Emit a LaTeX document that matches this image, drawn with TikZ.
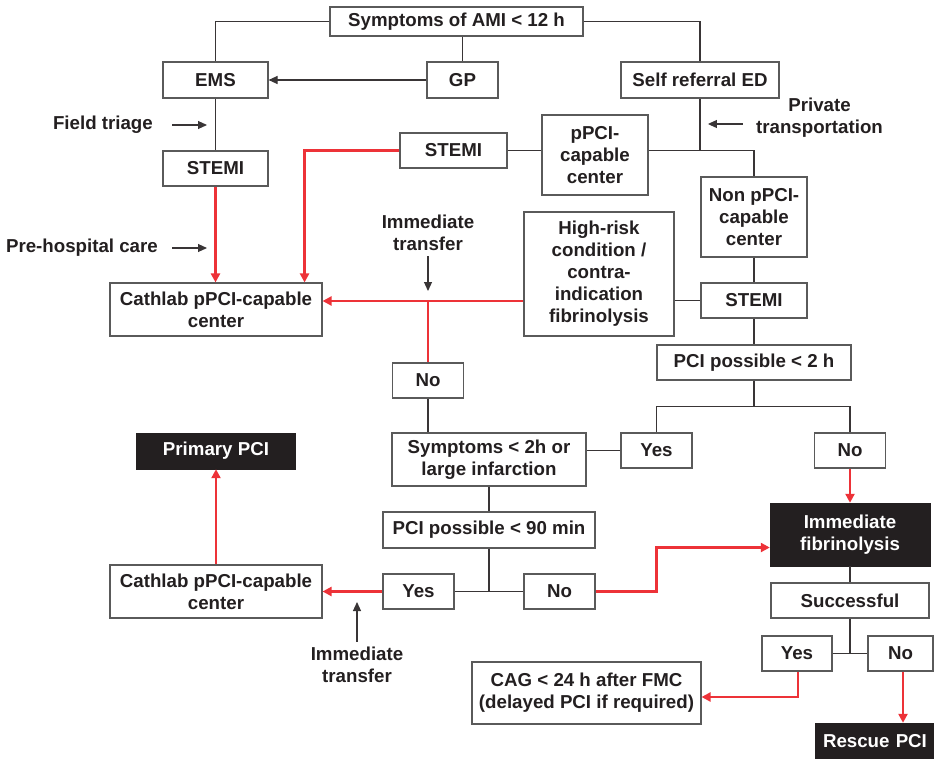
\documentclass[tikz,border=0pt]{standalone}
\usepackage{fontspec}
\setmainfont{Liberation Sans}
\usepackage{tikz}
\usetikzlibrary{arrows.meta, positioning, calc}
\tikzset{every node/.append style={align=center}}
\usepackage{xcolor}
\definecolor{amired}{RGB}{237,50,56}
\definecolor{boxgray}{RGB}{90,90,90}
\definecolor{inkblack}{RGB}{35,31,32}
\newcommand{\flowfont}{\fontsize{18.7}{22}\selectfont\bfseries}

\tikzset{
  flowbox/.style={draw=boxgray, line width=1.1pt, fill=white, inner sep=0pt,
                  text=inkblack, font=\flowfont},
  darkbox/.style={draw=inkblack, fill=inkblack, inner sep=0pt,
                  text=white, font=\flowfont},
  sidetext/.style={inner sep=1pt, text=inkblack, font=\flowfont},
  link/.style={draw=inkblack!90, line width=1.1pt},
  redlink/.style={draw=amired, line width=2.4pt},
  redarrow/.style={redlink, -{Triangle[length=9pt,width=9pt]}},
  blackarrow/.style={link, -{Triangle[length=9pt,width=8pt]}},
}

\begin{document}
\begin{tikzpicture}[x=1pt,y=-1pt]
\useasboundingbox (0,0) rectangle (934,758);
\clip (0,0) rectangle (934,758);

% ── First contact ─────────────────────────────────────────────────────────────
\node[flowbox, minimum width=253, minimum height=29] (symp) at (456.5,21.5)
      {Symptoms of AMI < 12 h};
\node[flowbox, minimum width=105, minimum height=36] (ems) at (215.5,80) {EMS};
\node[flowbox, minimum width=71, minimum height=36] (gp) at (462.5,80) {GP};
\node[flowbox, minimum width=158, minimum height=36] (self) at (700,80)
      {Self referral ED};

\node[sidetext, anchor=east] (field) at (154,125) {Field triage};
\node[sidetext, anchor=east] (prehosp) at (159,248) {Pre-hospital care};
\node[sidetext] (private) at (819.5,118) {Private\\transportation};

% ── STEMI diagnosis ───────────────────────────────────────────────────────────
\node[flowbox, minimum width=105, minimum height=35] (stemiA) at (215.5,168.5) {STEMI};
\node[flowbox, minimum width=107, minimum height=35] (stemiB) at (453.5,150.5) {STEMI};
\node[flowbox, minimum width=106, minimum height=80] (ppci) at (595,155)
      {pPCI-\\capable\\center};
\node[flowbox, minimum width=106, minimum height=80] (nonppci) at (754,217)
      {Non pPCI-\\capable\\center};
\node[flowbox, minimum width=150, minimum height=124] (highrisk) at (599,274)
      {High-risk\\condition /\\contra-\\indication\\fibrinolysis};
\node[flowbox, minimum width=106, minimum height=35] (stemiC) at (754,300.5) {STEMI};
\node[sidetext] (imtrA) at (428,233) {Immediate\\transfer};

% ── Reperfusion choice ────────────────────────────────────────────────────────
\node[flowbox, minimum width=212, minimum height=53] (cathA) at (216,309.5)
      {Cathlab pPCI-capable\\center};
\node[flowbox, minimum width=71, minimum height=35] (noA) at (428,380.5) {No};
\node[flowbox, minimum width=194, minimum height=35] (pcip2) at (754,362.5)
      {PCI possible < 2 h};
\node[darkbox, minimum width=159, minimum height=36] (primary) at (216,451)
      {Primary PCI};
\node[flowbox, minimum width=194, minimum height=53] (sympt2) at (489,459.5)
      {Symptoms < 2h or\\large infarction};
\node[flowbox, minimum width=71, minimum height=35] (yesA) at (656.5,450.5) {Yes};
\node[flowbox, minimum width=71, minimum height=35] (noB) at (850,450.5) {No};
\node[flowbox, minimum width=212, minimum height=36] (pcip90) at (489,530)
      {PCI possible < 90 min};
\node[darkbox, minimum width=160, minimum height=63] (fibr) at (850,534.5)
      {Immediate\\fibrinolysis};
\node[flowbox, minimum width=212, minimum height=53] (cathB) at (216,591.5)
      {Cathlab pPCI-capable\\center};
\node[flowbox, minimum width=71, minimum height=35] (yesB) at (418.5,591.5) {Yes};
\node[flowbox, minimum width=71, minimum height=35] (noC) at (559.5,591.5) {No};
\node[sidetext] (imtrB) at (357,665) {Immediate\\transfer};

% ── After fibrinolysis ────────────────────────────────────────────────────────
\node[flowbox, minimum width=158, minimum height=35] (succ) at (850,600.5) {Successful};
\node[flowbox, minimum width=70, minimum height=35] (yesC) at (797,653.5) {Yes};
\node[flowbox, minimum width=65, minimum height=35] (noD) at (900.5,653.5) {No};
\node[flowbox, minimum width=229, minimum height=62] (cag) at (586.5,693)
      {CAG < 24 h after FMC\\(delayed PCI if required)};
\node[darkbox, minimum width=118, minimum height=36, text width=118,
      align=left, inner xsep=8pt] (rescue) at (882,741) {Rescue PCI};

% ── Connectors ────────────────────────────────────────────────────────────────
\draw[link] (symp.west) -| (ems.north);
\draw[link] (symp.east) -| (self.north);
\draw[link] (gp.north |- symp.south) -- (gp.north);
\draw[blackarrow] (gp.west) -- (ems.east);
\draw[link] (ems.south) -- (stemiA.north);
\draw[blackarrow] ([xshift=18pt]field.east) -- ++(35,0);
\draw[blackarrow] ([xshift=13pt]prehosp.east) -- ++(35,0);
\draw[blackarrow] ([xshift=-12pt,yshift=-6pt]private.west) -- ++(-35,0);

\draw[redarrow] (stemiA.south) -- (stemiA.south |- cathA.north);
\draw[redarrow] (stemiB.west) -| ([xshift=-18pt]cathA.north east);
\draw[link] (stemiB.east) -- (stemiB.east -| ppci.west);
\draw[link] (self.south) -- (self.south |- stemiB.east);
\draw[link] (ppci.east |- stemiB.east) -| (nonppci.north);
\draw[link] (nonppci.south) -- (stemiC.north);
\draw[link] (stemiC.west -| highrisk.east) -- (stemiC.west);

\coordinate (split) at (428,301);
\draw[redarrow] (split -| highrisk.west) -- (split -| cathA.east);
\draw[redlink] (split) -- (noA.north);
\draw[blackarrow] ([yshift=-4pt]imtrA.south) -- ([yshift=10pt]split);
\draw[link] (noA.south) -- (noA.south |- sympt2.north);

\draw[link] (stemiC.south) -- (pcip2.north);
\draw[link] (pcip2.south) -- ++(0,26) coordinate (fork);
\draw[link] (yesA.north) |- (fork) -| (noB.north);
\draw[link] (yesA.west) -- (yesA.west -| sympt2.east);
\draw[redarrow] (noB.south) -- (fibr.north);

\draw[link] (sympt2.south) -- (pcip90.north);
\draw[link] (pcip90.south) -- (pcip90.south |- yesB.east);
\draw[link] (yesB.east) -- (noC.west);
\draw[redarrow] (yesB.west) -- (cathB.east);
\coordinate (tipB) at (357,602);
\draw[blackarrow] ([yshift=4pt]imtrB.north) -- (tipB);
\draw[redarrow] (noC.east) -- ++(61,0) |- ([yshift=-13pt]fibr.west);
\draw[redarrow] (cathB.north) -- (primary.south);

\draw[link] (fibr.south) -- (succ.north);
\draw[link] (succ.south) -- (succ.south |- yesC.east);
\draw[link] (yesC.east) -- (noD.west);
\draw[redarrow] ([xshift=1pt]yesC.south) |- ([yshift=-4pt]cag.east);
\draw[redarrow] ([xshift=2.5pt]noD.south) -- ([xshift=2.5pt]noD.south |- rescue.north);

\end{tikzpicture}
\end{document}
